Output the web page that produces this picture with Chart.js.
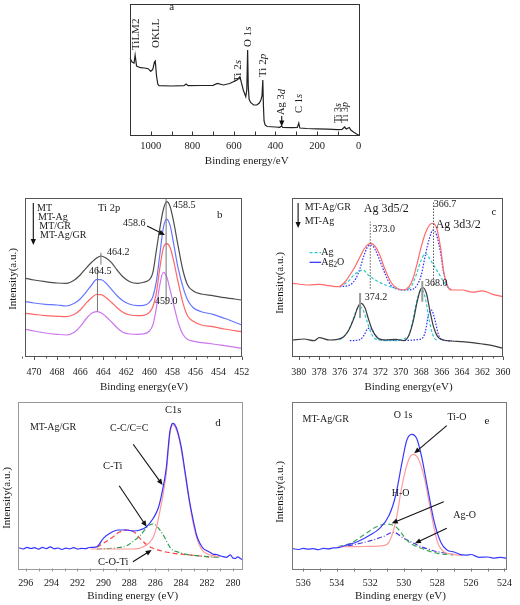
<!DOCTYPE html>
<html>
<head>
<meta charset="utf-8">
<script src="https://cdn.jsdelivr.net/npm/chart.js@4/dist/chart.umd.min.js"></script>
<style>
  body { margin: 0; background: #fff; width: 520px; height: 605px; position: relative; overflow: hidden; }
  canvas { position: absolute; left: 0; top: 0; }
</style>
</head>
<body>
<canvas id="pa" width="520" height="605"></canvas>
<canvas id="pb" width="520" height="605"></canvas>
<canvas id="pc" width="520" height="605"></canvas>
<canvas id="pd" width="520" height="605"></canvas>
<canvas id="pe" width="520" height="605"></canvas>
<script>
const SERIF = '"Liberation Serif", "Times New Roman", serif';

// ---- a: survey spectrum ----
const aEnergy = [1100, 1090, 1080, 1075, 1068, 1050, 1030, 1012, 1000, 990, 982, 978, 972, 966, 960, 900, 840, 830, 820, 760,
  700, 680, 650, 620, 603, 585, 571, 563, 555, 543, 538, 534, 531, 527, 520, 505, 490, 478, 470, 465,
  461, 458, 455, 450, 440, 400, 380, 371, 365, 320, 295, 288, 283, 250, 200, 150, 100, 80, 68, 60, 45, 38, 25, 10, 0];
const aCounts = [78, 74, 73, 81, 70, 68.3, 68, 67.3, 64.7, 66.5, 74, 75, 60, 52, 50.3, 50, 50.3, 52, 50.3, 50.5,
  50.7, 52.5, 51, 52.5, 54.3, 56, 59.3, 52.7, 46, 39.3, 46, 86, 50, 37, 33.5, 31, 31, 33, 36, 40,
  56, 30, 15, 11, 9.5, 9, 8.7, 10, 8.7, 8.3, 8.5, 13, 8, 7.5, 7.2, 6.8, 6.3, 6.5, 9, 7, 8.5, 6, 4, 2, 1];
const aLabels = [1000, 800, 600, 400, 200, 0];
const aMinor = [900, 700, 500, 300, 100];

// ---- b: Ti 2p ----
const bEnergy = [470.7, 470, 469, 468, 467.2, 466.5, 466, 465.5, 465, 464.6, 464.2, 463.8, 463.3, 462.8, 462.3, 461.7, 461,
  460.5, 460, 459.7, 459.4, 459.1, 458.8, 458.5, 458.2, 457.9, 457.5, 457.1, 456.7, 456.2, 455.5, 454.5, 453.5, 452];
const bMT = [78.4, 76.7, 75, 73.7, 73.4, 76.7, 81.7, 88.4, 94.4, 98.4, 100.7, 99, 94.4, 86.7, 80, 75, 73.4,
  74.4, 77, 84, 106, 128, 146.7, 155, 150, 135, 110, 86.7, 72, 65.7, 62.7, 61, 59, 56.7];
const bMTAg = [55, 53.7, 52.4, 51.7, 50.7, 53.4, 57.7, 64.4, 71.7, 77, 77, 74, 67.5, 61, 56, 52.4, 51,
  51.3, 54.4, 60, 75, 101.7, 128.4, 137.5, 131, 113, 88, 70, 57, 49, 45, 42.4, 38.4, 31.7];
const bMTGR = [43.4, 42.4, 41, 40.4, 40, 42.4, 46.7, 53.4, 59, 62.2, 62, 59.5, 54.5, 49, 44.5, 41.7, 41,
  41.4, 44.4, 50, 63.4, 88.4, 108.4, 113, 109, 96, 74, 54, 41, 35.5, 31.7, 30, 27.7, 25];
const bMTAgGR = [27.4, 25.7, 23.7, 22.4, 21.7, 24.4, 30, 37.7, 43.4, 45, 44, 40.5, 35, 29, 24.5, 22.7, 22.4,
  22.8, 25.7, 31.7, 48.4, 71.7, 84.4, 80, 66.7, 52, 34, 22.5, 17.5, 15.5, 14, 12.7, 11, 8.4];
const bLabels = [470, 468, 466, 464, 462, 460, 458, 456, 454, 452];
const bMinor = [471, 469, 467, 465, 463, 461, 459, 457, 455, 453];

// ---- c: Ag 3d ----
const cGRx = [380.6, 379, 378, 377, 376.1, 375.4, 375, 374.5, 374, 373.6, 373.2, 372.9, 372.5, 372, 371.6, 371, 370.4, 369.8,
  369.2, 368.8, 368.4, 368, 367.6, 367.2, 366.9, 366.5, 366.1, 365.8, 365.4, 365, 364, 363, 362, 361, 360];
const cGRy = [73.4, 71.7, 72.4, 71, 70, 75.7, 81.7, 90, 100, 107.7, 112.4, 113.4, 110, 100, 88.4, 75, 68.4, 66.7,
  70, 78.4, 93.4, 110, 123.4, 131.7, 133.4, 129, 108.4, 85, 70, 66.7, 66.7, 64.5, 65.8, 62.4, 60];
const cGRAg2Ox = [376, 375, 374.4, 374, 373.6, 373.2, 372.9, 372.5, 372, 371.5, 371, 370.4, 369.6, 369, 368.4, 368, 367.6,
  367.2, 366.85, 366.5, 366.1, 365.8, 365.4, 365];
const cGRAg2Oy = [70, 71.7, 78.4, 88.4, 101.7, 110.7, 111.7, 106.7, 94.4, 81.7, 71.7, 67.7, 66.7, 67, 71.7, 81.7, 101.7,
  118.4, 126.7, 121.7, 103.4, 83.4, 70, 66.7];
const cGRAgx = [376, 375.2, 374.6, 374, 373.7, 373.2, 372.5, 371.5, 370.5, 369.8, 369, 368.5, 368, 367.6, 367.2, 366.8, 366.3, 365.8, 365.3];
const cGRAgy = [70, 75, 81.7, 85.7, 86.7, 81.7, 76.7, 71.7, 68.4, 66.7, 70, 81.7, 96.7, 103.4, 98.4, 91.7, 83.4, 75, 68.4];
const cAgx = [380.6, 379.5, 378.5, 378, 377, 376.2, 375.6, 375.1, 374.6, 374.2, 373.9, 373.5, 373.2, 372.8, 372.3, 371.5, 370.5,
  369.7, 369.2, 368.8, 368.4, 368.1, 367.85, 367.5, 367.2, 366.8, 366.4, 365.8, 365, 364, 363, 362, 361, 360];
const cAgy = [16.7, 17.7, 16, 19, 16.7, 17.4, 20, 26.7, 38.4, 50, 53.4, 48.4, 38.4, 26.7, 19, 16.7, 17.4,
  16, 21.7, 35, 55, 66.7, 69, 63.4, 48.4, 30, 20, 16.7, 15.7, 15, 14, 12.7, 11, 8.4];
const cAgAgx = [376, 375.2, 374.7, 374.3, 374, 373.7, 373.3, 372.9, 372.4, 371, 369.3, 368.9, 368.5, 368.1, 367.9, 367.6, 367.2, 366.8, 366.4];
const cAgAgy = [16.7, 25, 36.7, 47.7, 50, 46.7, 35, 23.4, 17.4, 16, 20, 33.4, 53.4, 65.7, 66.7, 58.4, 35, 20, 16];
const cAgAg2Ox = [375, 374, 373.6, 373.2, 372.9, 372.5, 372, 370, 368, 367.6, 367.3, 367, 366.7, 366.3, 365.9, 365];
const cAgAg2Oy = [16, 17, 21.7, 28.4, 27.7, 21.7, 17, 16.3, 17.7, 25, 41.7, 46.7, 38.4, 21.7, 16.7, 15.7];
const cLabels = [380, 378, 376, 374, 372, 370, 368, 366, 364, 362, 360];
const cMinor = [379, 377, 375, 373, 371, 369, 367, 365, 363, 361];

// ---- d: C 1s ----
const dSumx = [296.5, 296.2, 295.9, 295.6, 295.3, 295, 294.7, 294.4, 294.1, 293.8, 293.5, 293.2, 292.9, 292.6, 292.3, 292,
  291.7, 291.4, 291.1, 290.8, 290.5, 290, 289.5, 288.85, 288.2, 287.7, 287.18, 286.67, 286.15, 285.77, 285.5, 285.38,
  285.25, 285.13, 285, 284.87, 284.75, 284.66, 284.5, 284.35, 284.15, 283.97, 283.78, 283.58, 283.4, 283.2, 283, 282.81,
  282.55, 282.3, 282, 281.75, 281.5, 281.25, 281, 280.75, 280.5, 280.35, 280.2, 280, 279.8, 279.65, 279.5, 279.35, 279.2];
const dSumy = [21.5, 20.3, 22, 20.8, 21.6, 20.1, 21.9, 20.6, 22.4, 20.5, 21.3, 19.8, 21.2, 20.4, 21.7, 20.2,
  21, 20.6, 21.8, 22, 22.6, 31, 36, 39.3, 39.3, 38.3, 39.3, 42.6, 51, 61, 75, 83,
  92, 103, 121, 137.6, 144, 146, 145, 141, 132, 121, 105, 87.6, 72, 57.6, 45, 34.3,
  26, 21, 18.5, 16.8, 15, 14.8, 13.5, 12.6, 12, 13.2, 14.5, 11.3, 10.8, 12.4, 11.6, 10.1, 10.3];
const dCCx = [291, 289, 288, 287.5, 287, 286.5, 286.15, 285.9, 285.64, 285.38, 285.13, 285, 284.87, 284.74, 284.6,
  284.35, 284.15, 283.97, 283.58, 283.2, 282.81, 282.43, 282, 281.53, 281];
const dCCy = [20.3, 20.3, 20.3, 20.5, 22, 26, 32, 42, 58, 76, 97, 117, 134, 143, 144.5,
  139, 130, 118, 85, 55, 32, 20, 15.5, 13.6, 13];
const dCTix = [290.5, 289, 288.2, 287.7, 287.18, 286.7, 286.4, 286.15, 285.8, 285.38, 284.8, 284.2, 283.6, 282, 281];
const dCTiy = [20.3, 21.5, 23.5, 28, 33.6, 41, 44.5, 45.3, 42, 34.3, 21, 17, 15, 12.6, 12];
const dCOTix = [290.5, 290, 289.24, 288.8, 288.1, 287.6, 287.18, 286.6, 286.15, 285.4, 284.6, 283.5, 282.5, 281.5];
const dCOTiy = [22, 26, 32.6, 37, 39.3, 37, 31, 24, 21, 18, 16, 14.5, 13.3, 12];
const dLabels = [296, 294, 292, 290, 288, 286, 284, 282, 280];
const dMinor = [295, 293, 291, 289, 287, 285, 283, 281];

// ---- e: O 1s ----
const eSumx = [536.6, 536.3, 536, 535.7, 535.4, 535.1, 534.8, 534.5, 534.2, 533.9, 533.54, 532.77, 532.01, 531.44, 530.87,
  530.48, 530.1, 529.82, 529.53, 529.24, 528.96, 528.58, 528.19, 527.81, 527.43, 527, 526.67, 526.3, 526, 525.52,
  525, 524.6, 524.2, 523.9];
const eSumy = [20.6, 19.8, 20.9, 20.1, 20.7, 19.6, 21, 20.4, 21.4, 21.6, 23.6, 27.6, 34.3, 41, 54.3,
  74.3, 107.6, 129.3, 135, 131, 114.3, 81, 47.6, 27.6, 19.3, 17.3, 15, 14.2, 14.8, 12,
  12.3, 11.2, 12, 11];
const eTiOx = [533.9, 533, 532, 531.25, 530.87, 530.48, 530.1, 529.72, 529.44, 529.15, 528.77, 528.39, 528, 527.62, 527.05, 526.5];
const eTiOy = [22.6, 22.6, 23, 23.6, 27.6, 47.6, 84.3, 109.3, 115, 111, 91, 57.6, 27.6, 17.6, 15, 13.8];
const eHOx = [533.92, 533.16, 532.39, 531.63, 531, 530.48, 530.29, 529.72, 528.96, 528, 527.05];
const eHOy = [22.6, 26, 34.3, 42.6, 45.3, 42.6, 39.3, 27.6, 21, 16, 14.3];
const eAgOx = [533.92, 533.35, 532.2, 531.25, 530.62, 530, 528.96, 528, 527.05];
const eAgOy = [22.6, 23.6, 27.6, 32.6, 37, 31, 22.6, 17.6, 15];
const eLabels = [536, 534, 532, 530, 528, 526, 524];
const eMinor = [535, 533, 531, 529, 527, 525];

const AXIS_H = 24; // room kept under each plot for the tick labels

const pts = (xs, ys) => xs.map((x, i) => ({ x, y: ys[i] }));
const line = (xs, ys, color, dash, smooth) => ({
  data: pts(xs, ys), borderColor: color, borderWidth: 1.2, borderDash: dash || [],
  pointRadius: 0, fill: false, cubicInterpolationMode: smooth === false ? 'default' : 'monotone',
  tension: smooth === false ? 0 : 0.4
});

function rich(ctx, segs, x, y, size, align, rot) {
  ctx.save();
  ctx.translate(x, y);
  if (rot) ctx.rotate(-Math.PI / 2);
  ctx.fillStyle = '#1a1a1a';
  ctx.textBaseline = 'middle';
  ctx.textAlign = 'left';
  const fontOf = st => (st === 'i' ? 'italic ' : '') + (st === 'sub' ? size * 0.72 : size) + 'px ' + SERIF;
  let w = 0;
  segs.forEach(([s, st]) => { ctx.font = fontOf(st); w += ctx.measureText(s).width; });
  let cx = align === 'center' ? -w / 2 : 0;
  segs.forEach(([s, st]) => {
    ctx.font = fontOf(st);
    ctx.fillText(s, cx, st === 'sub' ? size * 0.28 : 0);
    cx += ctx.measureText(s).width;
  });
  ctx.restore();
}

function arrow(ctx, x1, y1, x2, y2) {
  const a = Math.atan2(y2 - y1, x2 - x1), h = 6, w = 2.6;
  ctx.strokeStyle = ctx.fillStyle = '#111';
  ctx.lineWidth = 1.1;
  ctx.setLineDash([]);
  ctx.beginPath();
  ctx.moveTo(x1, y1);
  ctx.lineTo(x2 - h * 0.8 * Math.cos(a), y2 - h * 0.8 * Math.sin(a));
  ctx.stroke();
  ctx.beginPath();
  ctx.moveTo(x2, y2);
  ctx.lineTo(x2 - h * Math.cos(a) + w * Math.sin(a), y2 - h * Math.sin(a) - w * Math.cos(a));
  ctx.lineTo(x2 - h * Math.cos(a) - w * Math.sin(a), y2 - h * Math.sin(a) + w * Math.cos(a));
  ctx.closePath();
  ctx.fill();
}

// frame, tick marks, axis titles and annotations (annotation positions are in data units)
const deco = {
  id: 'deco',
  afterDatasetsDraw(chart, args, o) {
    const { ctx, chartArea: ca } = chart;
    const X = v => chart.scales.x.getPixelForValue(v);
    const Y = v => chart.scales.y.getPixelForValue(v);
    ctx.save();
    ctx.strokeStyle = o.frame;
    ctx.lineWidth = 1;
    ctx.strokeRect(Math.round(ca.left) + 0.5, Math.round(ca.top) + 0.5, Math.round(ca.width) - 1, Math.round(ca.height) - 1);
    const b = Math.round(ca.bottom) - 0.5;
    const tick = (v, len) => {
      const x = Math.round(X(v)) + 0.5;
      ctx.beginPath(); ctx.moveTo(x, b); ctx.lineTo(x, b + o.dir * len); ctx.stroke();
    };
    o.major.forEach(v => tick(v, o.len));
    o.minor.forEach(v => tick(v, o.minorLen));

    ctx.fillStyle = '#1a1a1a';
    ctx.font = '11px ' + SERIF;
    ctx.textAlign = 'center';
    ctx.textBaseline = 'middle';
    if (o.xTitle) ctx.fillText(o.xTitle.text, (ca.left + ca.right) / 2 + o.xTitle.dx, ca.bottom + o.xTitle.dy);
    if (o.yTitle) {
      ctx.save();
      ctx.translate(ca.left + o.yTitle.dx, (ca.top + ca.bottom) / 2 + o.yTitle.dy);
      ctx.rotate(-Math.PI / 2);
      ctx.fillText(o.yTitle.text, 0, 0);
      ctx.restore();
    }
    (o.vlines || []).forEach(l => {
      ctx.strokeStyle = l.color || '#777';
      ctx.lineWidth = l.width || 1;
      ctx.setLineDash(l.dash || []);
      ctx.beginPath(); ctx.moveTo(X(l.x), Y(l.y0)); ctx.lineTo(X(l.x), Y(l.y1)); ctx.stroke();
    });
    ctx.setLineDash([]);
    (o.keys || []).forEach(k => {
      ctx.strokeStyle = k.color;
      ctx.lineWidth = 1.2;
      ctx.setLineDash(k.dash || []);
      ctx.beginPath(); ctx.moveTo(X(k.x0), Y(k.y)); ctx.lineTo(X(k.x1), Y(k.y)); ctx.stroke();
    });
    (o.arrows || []).forEach(a => arrow(ctx, X(a.from[0]), Y(a.from[1]), X(a.to[0]), Y(a.to[1])));
    (o.texts || []).forEach(t => rich(ctx, t.s, X(t.x), Y(t.y), t.size || 10, t.align, t.rot));
    ctx.restore();
  }
};

function panel(id, area, xr, yMax, datasets, o) {
  return new Chart(document.getElementById(id), {
    type: 'line',
    data: { datasets },
    options: {
      responsive: false,
      animation: false,
      events: [],
      layout: { padding: { left: area[0], top: area[1], right: 520 - area[2], bottom: 605 - area[3] - AXIS_H } },
      plugins: { legend: { display: false }, tooltip: { enabled: false }, deco: o },
      scales: {
        x: {
          type: 'linear', reverse: true, min: xr[1], max: xr[0],
          grid: { display: false, drawTicks: false },
          border: { display: false },
          afterFit: s => { s.height = AXIS_H; },
          afterBuildTicks: s => { s.ticks = o.labels.map(v => ({ value: v })); },
          ticks: {
            autoSkip: false, maxRotation: 0, padding: o.tickPad, color: '#1a1a1a',
            font: { family: SERIF, size: o.tickSize }, callback: v => String(v)
          }
        },
        y: { display: false, min: 0, max: yMax }
      }
    },
    plugins: [deco]
  });
}

// a
panel('pa', [129.5, 4, 359, 136], [1102, -1.5], 132,
  [line(aEnergy, aCounts, '#222', null, false)],
  {
    frame: '#333', major: aLabels.concat(aMinor), labels: aLabels, minor: [], dir: -1, len: 4, minorLen: 4,
    tickPad: 3.7, tickSize: 10.5,
    xTitle: { text: 'Binding energy/eV', dx: 2.5, dy: 25 },
    arrows: [{ from: [370, 20], to: [370, 9.5] }],
    texts: [
      { s: [['TiLM2']], x: 1070.7, y: 86, size: 11, rot: true },
      { s: [['OKLL']], x: 974.5, y: 88, size: 11, rot: true },
      { s: [['Ti 2'], ['s', 'i']], x: 580, y: 54, size: 11, rot: true },
      { s: [['O 1'], ['s', 'i']], x: 533.7, y: 89, size: 11, rot: true },
      { s: [['Ti 2'], ['p', 'i']], x: 461.5, y: 59, size: 11, rot: true },
      { s: [['Ag 3'], ['d', 'i']], x: 370, y: 21, size: 10.5, rot: true },
      { s: [['C 1'], ['s', 'i']], x: 287, y: 23, size: 10.5, rot: true },
      { s: [['Ti 3'], ['s', 'i']], x: 98, y: 13, size: 10, rot: true },
      { s: [['Ti 3'], ['p', 'i']], x: 62.5, y: 13, size: 10, rot: true },
      { s: [['a']], x: 899.5, y: 129.3, size: 11, align: 'center' }
    ]
  });

// b
panel('pb', [25, 197.7, 241.7, 356.7], [470.78, 452], 159,
  [line(bEnergy, bMT, '#4d4d4d'), line(bEnergy, bMTAg, '#6677ff'), line(bEnergy, bMTGR, '#ff6666'), line(bEnergy, bMTAgGR, '#cc77ee')],
  {
    frame: '#555', major: bLabels, labels: bLabels, minor: bMinor, dir: 1, len: 3.5, minorLen: 2,
    tickPad: 9.6, tickSize: 10,
    xTitle: { text: 'Binding energy(eV)', dx: 10.6, dy: 30.3 },
    yTitle: { text: 'Intensity(a.u.)', dx: -12, dy: 1.8 },
    vlines: [{ x: 458.55, y0: 52, y1: 158 }, { x: 464.2, y0: 92, y1: 104 }, { x: 464.5, y0: 45, y1: 90 }],
    arrows: [{ from: [470.06, 153.7], to: [470.06, 111.7] }, { from: [460.2, 130.7], to: [458.65, 121.7] }],
    texts: [
      { s: [['MT']], x: 469.74, y: 148.4 },
      { s: [['MT-Ag']], x: 469.65, y: 139 },
      { s: [['MT/GR']], x: 469.54, y: 130 },
      { s: [['MT-Ag/GR']], x: 469.48, y: 121 },
      { s: [['Ti 2p']], x: 464.45, y: 148.7, size: 10.5 },
      { s: [['b']], x: 453.9, y: 141.7, size: 11, align: 'center' },
      { s: [['458.5']], x: 457.95, y: 151.7 },
      { s: [['458.6']], x: 462.29, y: 133.7 },
      { s: [['464.2']], x: 463.67, y: 104.7 },
      { s: [['464.5']], x: 465.23, y: 85.7 },
      { s: [['459.0']], x: 459.51, y: 55.7 }
    ]
  });

// c
panel('pc', [292.3, 197.7, 509.3, 356.7], [380.64, 360], 159,
  [line(cGRx, cGRy, '#ff6a6a'), line(cGRAgx, cGRAgy, '#30c8c8', [3, 2]), line(cGRAg2Ox, cGRAg2Oy, '#2a2aff', [1.5, 1.5]),
   line(cAgx, cAgy, '#3d3d3d'), line(cAgAgx, cAgAgy, '#30c8c8', [3, 2]), line(cAgAg2Ox, cAgAg2Oy, '#2a2aff', [1.5, 1.5])],
  {
    frame: '#555', major: cLabels, labels: cLabels, minor: cMinor, dir: 1, len: 3.5, minorLen: 2,
    tickPad: 9.6, tickSize: 10,
    xTitle: { text: 'Binding energy(eV)', dx: 10.9, dy: 30.3 },
    yTitle: { text: 'Intensity(a.u.)', dx: -12.3, dy: 5.8 },
    vlines: [
      { x: 373.0, y0: 68, y1: 135, dash: [1.5, 1.5], color: '#555' },
      { x: 366.8, y0: 71.7, y1: 155.7, dash: [1.5, 1.5], color: '#555' },
      { x: 374.0, y0: 38.7, y1: 63.7, color: '#999', width: 2 },
      { x: 367.9, y0: 55, y1: 75.7, color: '#999', width: 2 }
    ],
    keys: [{ x0: 378.95, x1: 377.81, y: 104, color: '#30c8c8', dash: [3, 2] }, { x0: 378.95, x1: 377.81, y: 94.4, color: '#2a2aff' }],
    arrows: [{ from: [380.07, 153.7], to: [380.07, 128.7] }],
    texts: [
      { s: [['MT-Ag/GR']], x: 379.43, y: 149.7 },
      { s: [['MT-Ag']], x: 379.43, y: 135 },
      { s: [['Ag 3d5/2']], x: 373.63, y: 147.7, size: 12 },
      { s: [['373.0']], x: 372.77, y: 127.7 },
      { s: [['366.7']], x: 366.78, y: 152.7 },
      { s: [['Ag 3d3/2']], x: 366.59, y: 131.7, size: 12 },
      { s: [['c']], x: 360.88, y: 145, size: 11, align: 'center' },
      { s: [['Ag']], x: 377.81, y: 104 },
      { s: [['Ag'], ['2', 'sub'], ['O']], x: 377.81, y: 94.4 },
      { s: [['374.2']], x: 373.53, y: 59 },
      { s: [['368.0']], x: 367.64, y: 73 }
    ]
  });

// d
panel('pd', [18, 401.7, 243.3, 569.3], [296.59, 279.2], 167.6,
  [line(dSumx, dSumy, '#3333ff'), line(dCCx, dCCy, '#ff9999'), line(dCTix, dCTiy, '#2e9e4f', [5, 2, 1, 2]), line(dCOTix, dCOTiy, '#ff4444', [5, 3])],
  {
    frame: '#999', major: dLabels, labels: dLabels, minor: dMinor, dir: 1, len: 3, minorLen: 3,
    tickPad: 8, tickSize: 10,
    xTitle: { text: 'Binding energy (eV)', dx: 2, dy: 26.7 },
    yTitle: { text: 'Intensity(a.u.)', dx: -11, dy: 12.5 },
    arrows: [
      { from: [287.7, 125], to: [285.43, 84.3] },
      { from: [288.78, 83.6], to: [286.66, 42.6] },
      { from: [287.72, 7.6], to: [286.27, 19.3] }
    ],
    texts: [
      { s: [['MT-Ag/GR']], x: 295.67, y: 142.3 },
      { s: [['C1s']], x: 285.25, y: 159.3, size: 10.5 },
      { s: [['d']], x: 281.16, y: 146.3, size: 11, align: 'center' },
      { s: [['C-C/C=C']], x: 289.49, y: 141.3 },
      { s: [['C-Ti']], x: 290.03, y: 102.6, size: 10.5 },
      { s: [['C-O-Ti']], x: 290.42, y: 6.6, size: 10.5 }
    ]
  });

// e
panel('pe', [292.3, 401.7, 516.5, 569.3], [536.65, 523.82], 167.6,
  [line(eSumx, eSumy, '#3b3bff'), line(eTiOx, eTiOy, '#ff9c9c'), line(eHOx, eHOy, '#3aaa5a', [5, 3]), line(eAgOx, eAgOy, '#4a3ad8', [5, 2, 1, 2])],
  {
    frame: '#777', major: eLabels, labels: eLabels, minor: eMinor, dir: 1, len: 3, minorLen: 3,
    tickPad: 8, tickSize: 10,
    xTitle: { text: 'Binding energy (eV)', dx: 0.6, dy: 26.7 },
    yTitle: { text: 'Intensity(a.u.)', dx: -12.3, dy: 6.5 },
    arrows: [
      { from: [527.44, 143.6], to: [529.38, 116] },
      { from: [527.62, 67.6], to: [530.72, 46] },
      { from: [527.44, 41], to: [529.34, 26] }
    ],
    texts: [
      { s: [['MT-Ag/GR']], x: 536.04, y: 150.3 },
      { s: [['O 1s']], x: 530.6, y: 153.6 },
      { s: [['Ti-O']], x: 527.4, y: 152.3 },
      { s: [['e']], x: 525.05, y: 148.6, size: 11, align: 'center' },
      { s: [['H-O']], x: 530.72, y: 76.3 },
      { s: [['Ag-O']], x: 527.05, y: 54.3 }
    ]
  });
</script>
</body>
</html>
